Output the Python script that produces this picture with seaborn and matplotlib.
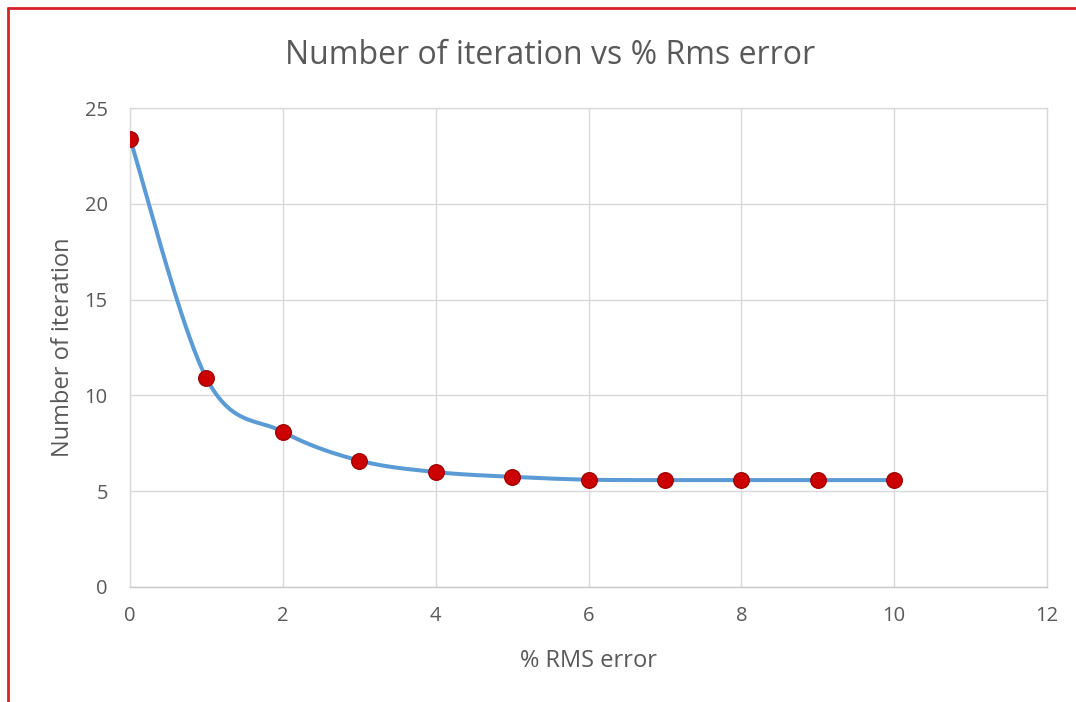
import numpy as np
import pandas as pd
import matplotlib
matplotlib.use("Agg")
import matplotlib.pyplot as plt
import seaborn as sns
from matplotlib.lines import Line2D

# Data
rms_error = [0, 1, 2, 3, 4, 5, 6, 7, 8, 9, 10]
iterations = [23.4, 10.9, 8.1, 6.6, 6.0, 5.75, 5.6, 5.58, 5.58, 5.58, 5.58]
x_ticks = [0, 2, 4, 6, 8, 10, 12]
y_ticks = [0, 5, 10, 15, 20, 25]
title = "Number of iteration vs % Rms error"
x_label = "% RMS error"
y_label = "Number of iteration"


def excel_smooth(xs, ys, n=40):
    """Excel-style smoothed line: cubic Bezier with Catmull-Rom control points."""
    xs = np.asarray(xs, float)
    ys = np.asarray(ys, float)
    px, py = [], []
    m = len(xs)
    for i in range(m - 1):
        x0, y0 = (xs[i - 1], ys[i - 1]) if i > 0 else (xs[i], ys[i])
        x1, y1 = xs[i], ys[i]
        x2, y2 = xs[i + 1], ys[i + 1]
        x3, y3 = (xs[i + 2], ys[i + 2]) if i + 2 < m else (x2, y2)
        c1x, c1y = x1 + (x2 - x0) / 6, y1 + (y2 - y0) / 6
        c2x, c2y = x2 - (x3 - x1) / 6, y2 - (y3 - y1) / 6
        t = np.linspace(0, 1, n, endpoint=(i == m - 2))
        b0 = (1 - t) ** 3
        b1 = 3 * (1 - t) ** 2 * t
        b2 = 3 * (1 - t) * t ** 2
        b3 = t ** 3
        px.extend(b0 * x1 + b1 * c1x + b2 * c2x + b3 * x2)
        py.extend(b0 * y1 + b1 * c1y + b2 * c2y + b3 * y2)
    return np.array(px), np.array(py)


sns.set_theme(style="white")
plt.rcParams["font.family"] = ["Open Sans", "DejaVu Sans"]

text_col = "#595959"
grid_col = "#d9d9d9"

fig = plt.figure(figsize=(10.76, 7.02), dpi=100)
ax = fig.add_axes([130 / 1076, 1 - 587 / 702, (1047 - 130) / 1076, (587 - 108) / 702])

sx, sy = excel_smooth(rms_error, iterations)
smooth_df = pd.DataFrame({"x": sx, "y": sy})
sns.lineplot(data=smooth_df, x="x", y="y", sort=False, color="#5b9bd5",
             linewidth=2.9, ax=ax, zorder=3)

pts = pd.DataFrame({"x": rms_error, "y": iterations})
sns.scatterplot(data=pts, x="x", y="y", s=125, color="#cc0000",
                edgecolor="#a00000", linewidth=1.0, ax=ax, zorder=4)

ax.set_xlim(0, 12)
ax.set_ylim(0, 25)
ax.set_xticks(x_ticks)
ax.set_yticks(y_ticks)
ax.grid(True, color=grid_col, linewidth=1.0)
ax.set_axisbelow(True)
for s in ax.spines.values():
    s.set_color(grid_col)
    s.set_linewidth(1.0)
ax.spines["bottom"].set_color("#c8c8c8")
ax.tick_params(axis="both", length=0, labelsize=14.5, labelcolor=text_col)
ax.tick_params(axis="y", pad=16)
ax.tick_params(axis="x", pad=14)

ax.set_xlabel(x_label, fontsize=17, color=text_col, labelpad=16)
ax.set_ylabel(y_label, fontsize=17, color=text_col, labelpad=7)
fig.text(550 / 1076, 1 - 55 / 702, title, fontsize=23, color=text_col,
         ha="center", va="center")

# red frame (top and left)
fig.add_artist(Line2D([8 / 1076, 1], [1 - 8 / 702, 1 - 8 / 702], transform=fig.transFigure,
                      color="#d9202a", linewidth=2.0))
fig.add_artist(Line2D([8 / 1076, 8 / 1076], [0, 1 - 8 / 702], transform=fig.transFigure,
                      color="#d9202a", linewidth=2.0))

fig.savefig("out.png", dpi=100, facecolor="white")
